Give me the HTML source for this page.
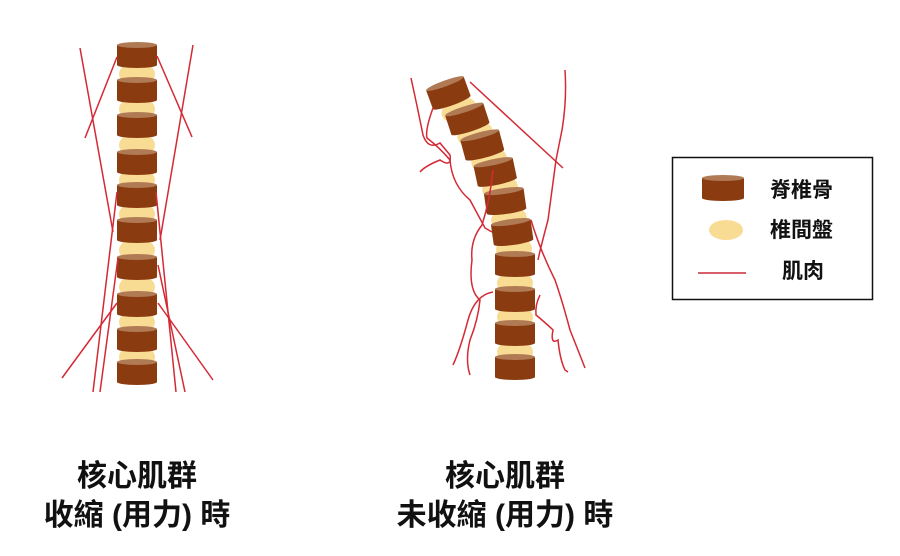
<!DOCTYPE html>
<html><head><meta charset="utf-8"><style>
html,body{margin:0;padding:0;background:#fff;}
svg{display:block}
text{font-family:"Liberation Sans","Noto Sans CJK TC",sans-serif;font-weight:bold;fill:#111}
</style></head><body>
<svg width="900" height="556" viewBox="0 0 900 556" xmlns="http://www.w3.org/2000/svg">
<defs>
<g id="v">
<rect x="-20" y="-9" width="40" height="20" fill="#8b3b10"/>
<ellipse cx="0" cy="11" rx="20" ry="3" fill="#8b3b10"/>
<ellipse cx="0" cy="-9" rx="20" ry="3" fill="#b07a55"/>
</g>
<ellipse id="d" cx="0" cy="0" rx="18" ry="12" fill="#f9dc94"/>
</defs>
<g>
<use href="#d" x="137" y="74"/><use href="#d" x="137" y="109"/><use href="#d" x="137" y="145"/>
<use href="#d" x="137" y="180"/><use href="#d" x="137" y="214"/><use href="#d" x="137" y="250"/>
<use href="#d" x="137" y="287"/><use href="#d" x="137" y="322"/><use href="#d" x="137" y="357"/>
</g>
<g>
<use href="#v" x="137" y="54"/><use href="#v" x="137" y="89"/><use href="#v" x="137" y="124"/>
<use href="#v" x="137" y="161"/><use href="#v" x="137" y="194"/><use href="#v" x="137" y="229"/>
<use href="#v" x="137" y="266"/><use href="#v" x="137" y="303"/><use href="#v" x="137" y="338"/>
<use href="#v" x="137" y="371"/>
</g>
<g stroke="#d42a35" stroke-width="1.5" fill="none">
<line x1="85" y1="138" x2="117" y2="57"/>
<line x1="192" y1="137" x2="157" y2="56"/>
<line x1="80" y1="48" x2="113" y2="232"/>
<line x1="193" y1="45" x2="160" y2="240"/>
<line x1="117" y1="192" x2="93" y2="392"/>
<line x1="118" y1="258" x2="100" y2="392"/>
<line x1="156" y1="192" x2="176" y2="392"/>
<line x1="158" y1="265" x2="185" y2="392"/>
<line x1="117" y1="303" x2="62" y2="378"/>
<line x1="158" y1="303" x2="213" y2="380"/>
</g>
<g>
<g transform="translate(459,110) rotate(-19)"><use href="#d"/></g>
<g transform="translate(475,134) rotate(-16)"><use href="#d"/></g>
<g transform="translate(489,160) rotate(-13)"><use href="#d"/></g>
<g transform="translate(500,188) rotate(-10)"><use href="#d"/></g>
<g transform="translate(509,219) rotate(-8)"><use href="#d"/></g>
<g transform="translate(514,249) rotate(-4)"><use href="#d"/></g>
<use href="#d" x="515" y="283"/><use href="#d" x="515" y="317"/><use href="#d" x="515" y="352"/>
</g>
<g>
<g transform="translate(448,92) rotate(-20)"><use href="#v"/></g>
<g transform="translate(467,118) rotate(-18)"><use href="#v"/></g>
<g transform="translate(482,144) rotate(-15)"><use href="#v"/></g>
<g transform="translate(495,171) rotate(-12)"><use href="#v"/></g>
<g transform="translate(505,200) rotate(-8)"><use href="#v"/></g>
<g transform="translate(512,231) rotate(-8)"><use href="#v"/></g>
<use href="#v" x="515" y="263"/><use href="#v" x="515" y="298"/><use href="#v" x="515" y="332"/><use href="#v" x="515" y="366"/>
</g>
<g stroke="#d42a35" stroke-width="1.5" fill="none">
<line x1="470" y1="82" x2="563" y2="168"/>
<path d="M411,78 Q418,110 423,135 Q428,150 440,143 L450,155 Q452,168 440,160 Q425,166 420,172"/>
<path d="M433,108 Q425,130 427,138 Q440,148 450,160 Q452,185 470,200 Q478,215 485,228 L492,232"/>
<path d="M565,70 Q567,100 562,130 Q558,150 556,160 Q552,190 548,220 Q540,250 538,260"/>
<path d="M493,170 Q490,200 482,225 Q470,240 472,260 Q468,290 480,300 Q478,320 470,340 Q465,360 470,375"/>
<path d="M493,292 Q475,295 468,320 Q460,350 453,365"/>
<path d="M531,220 Q540,250 555,280 Q562,300 570,330 Q578,350 585,368"/>
<path d="M540,295 Q535,305 536,315 Q548,325 553,330 Q550,345 558,340 Q560,360 565,370 L568,372"/>
</g>
<rect x="672.5" y="157.5" width="200" height="142" fill="none" stroke="#111" stroke-width="1.5"/>
<g transform="translate(723,187) scale(1.05,1)"><use href="#v"/></g>
<ellipse cx="726" cy="230" rx="17" ry="10" fill="#f9dc94"/>
<line x1="698" y1="273" x2="746" y2="273" stroke="#c82a3a" stroke-width="1.5"/>
<text x="770" y="197" font-size="21">脊椎骨</text>
<text x="770" y="237" font-size="21">椎間盤</text>
<text x="782" y="278" font-size="21">肌肉</text>
<text x="137" y="486" font-size="30" text-anchor="middle">核心肌群</text>
<text x="137" y="525" font-size="30" text-anchor="middle">收縮 (用力) 時</text>
<text x="505" y="486" font-size="30" text-anchor="middle">核心肌群</text>
<text x="505" y="525" font-size="30" text-anchor="middle">未收縮 (用力) 時</text>
</svg>
</body></html>
